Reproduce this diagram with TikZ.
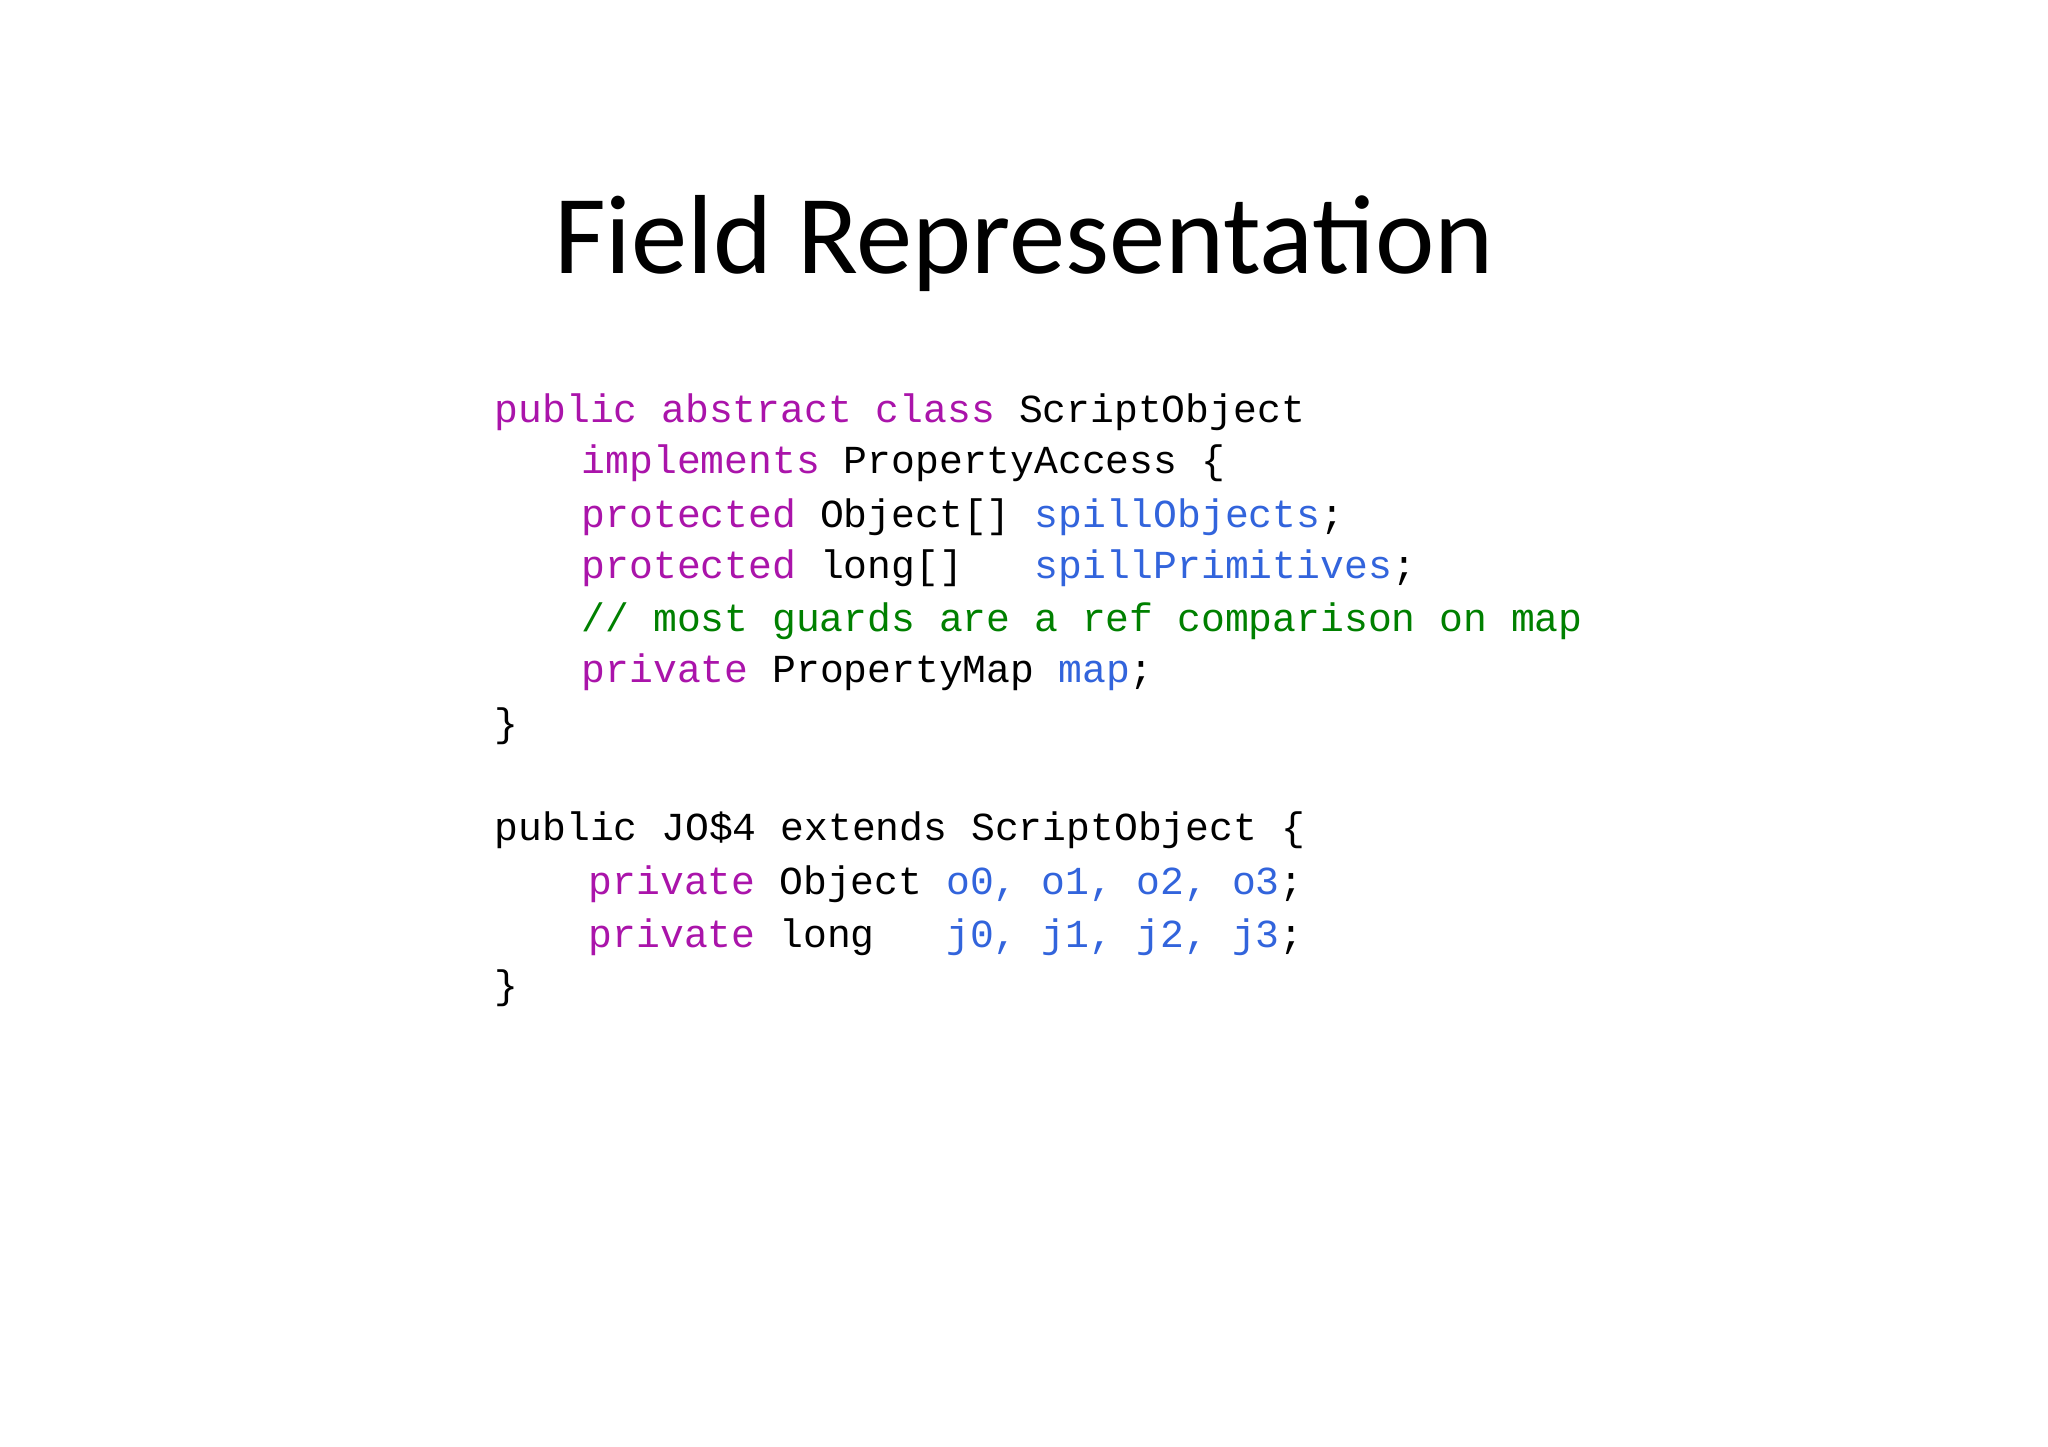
\documentclass[tikz,border=0pt]{standalone}
\usepackage{fontspec}
\setmainfont{Carlito}
\setmonofont{Liberation Mono}
\definecolor{kwc}{RGB}{170,20,170}
\definecolor{idc}{RGB}{50,100,220}
\definecolor{cmc}{RGB}{0,128,0}
\newcommand{\kw}[1]{\textcolor{kwc}{#1}}
\newcommand{\idn}[1]{\textcolor{idc}{#1}}
\newcommand{\cmt}[1]{\textcolor{cmc}{#1}}
\tikzset{code/.style={anchor=base west,inner sep=0pt,font=\fontsize{11.3pt}{13pt}\ttfamily}}
\begin{document}
\begin{tikzpicture}
\fill[white] (0,0) rectangle (20.48,14.47);
\useasboundingbox (0,0) rectangle (20.48,14.47);
\node[anchor=base,inner sep=0pt,font=\fontsize{32pt}{38pt}\selectfont] (title) at (10.24,11.73) {Field Representation};
\node[code] (l1) at (4.94,10.24) {\kw{public~abstract~class}~ScriptObject};
\node[code] (l2) at (5.81,9.73) {\kw{implements}~PropertyAccess~\{};
\node[code] (l3) at (5.81,9.19) {\kw{protected}~Object[]~\idn{spillObjects};};
\node[code] (l4) at (5.81,8.68) {\kw{protected}~long[]~~~\idn{spillPrimitives};};
\node[code] (l5) at (5.81,8.15) {\cmt{//~most~guards~are~a~ref~comparison~on~map}};
\node[code] (l6) at (5.81,7.64) {\kw{private}~PropertyMap~\idn{map};};
\node[code] (l7) at (4.94,7.10) {\}};
\node[code] (l8) at (4.94,6.06) {public~JO\$4~extends~ScriptObject~\{};
\node[code] (l9) at (5.88,5.52) {\kw{private}~Object~\idn{o0,~o1,~o2,~o3};};
\node[code] (l10) at (5.88,4.99) {\kw{private}~long~~~\idn{j0,~j1,~j2,~j3};};
\node[code] (l11) at (4.94,4.48) {\}};
\end{tikzpicture}
\end{document}
